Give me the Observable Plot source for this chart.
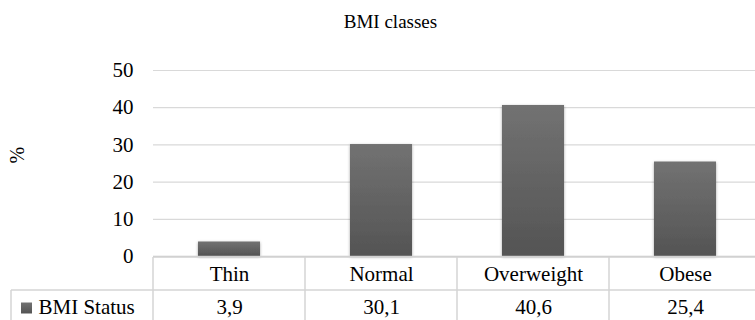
<!DOCTYPE html>
<html>
<head>
<meta charset="utf-8">
<script src="https://cdn.jsdelivr.net/npm/d3@7"></script>
<script src="https://cdn.jsdelivr.net/npm/@observablehq/plot@0.6"></script>
<style>
  html, body { margin: 0; padding: 0; background: #fff; overflow: hidden; }
  #chart svg, #chart svg text { font-family: "Liberation Serif", "Times New Roman", Times, serif; }
</style>
</head>
<body>
<div id="chart"></div>
<script>
// ---- data ----
const title = "BMI classes";
const yLabel = "%";
const seriesName = "BMI Status";
const categories = ["Thin", "Normal", "Overweight", "Obese"];
const values = [3.9, 30.1, 40.6, 25.4];
const valueLabels = ["3,9", "30,1", "40,6", "25,4"];
const yTicks = [0, 10, 20, 30, 40, 50];

const data = categories.map((c, i) => ({category: c, value: values[i], label: valueLabels[i]}));

const FONT = '"Liberation Serif", "Times New Roman", Times, serif';
const LINE = "#d4d4d4";
const BASE = 21;

const chart = Plot.plot({
  width: 755,
  height: 320,
  marginTop: 70,
  marginBottom: 64,
  marginLeft: 153,
  marginRight: -6,
  style: {fontFamily: FONT, fontSize: "12px", color: "#000", background: "#fff", overflow: "hidden"},
  x: {domain: categories, padding: 0, axis: null},
  y: {domain: [0, 50], axis: null},
  marks: [
    Plot.gridY(yTicks.filter(d => d > 0), {stroke: "#d9d9d9", strokeOpacity: 1, strokeWidth: 1.2}),
    Plot.axisY(yTicks, {tickSize: 0, tickPadding: 20, fontSize: BASE, fontFamily: FONT, label: null, fill: "#000"}),
    Plot.barY(data, {x: "category", y: "value", fill: "url(#barGrad)", insetLeft: 45, insetRight: 45}),
    Plot.ruleY([0], {stroke: "#c8c8c8", strokeWidth: 1.5}),
    // table text
    Plot.text(data, {x: "category", text: "category", frameAnchor: "bottom", dy: 18, lineAnchor: "middle", fontSize: BASE, fontFamily: FONT, fill: "#000"}),
    Plot.text(data, {x: "category", text: "label", frameAnchor: "bottom", dy: 51, lineAnchor: "middle", fontSize: BASE, fontFamily: FONT, fill: "#000"}),
    Plot.text([seriesName], {text: d => d, frameAnchor: "bottom-left", dx: -115, dy: 51, textAnchor: "start", lineAnchor: "middle", fontSize: BASE, fontFamily: FONT, fill: "#000"}),
    Plot.dot([seriesName], {frameAnchor: "bottom-left", dx: -127, dy: 51.5, symbol: "square", r: 6.2, fill: "url(#barGrad)", stroke: "none"}),
    // title and y label
    Plot.text([title], {text: d => d, frameAnchor: "top", dx: -67, dy: -49, lineAnchor: "middle", fontSize: 19, fontFamily: FONT, fill: "#000"}),
    Plot.text([yLabel], {text: d => d, frameAnchor: "left", dx: -136, rotate: -90, lineAnchor: "middle", fontSize: 20, fontFamily: FONT, fill: "#000"})
  ]
});

const svg = d3.select(chart);
const defs = svg.insert("defs", ":first-child");
const grad = defs.append("linearGradient").attr("id", "barGrad")
  .attr("x1", 0).attr("y1", 0).attr("x2", 0).attr("y2", 1);
grad.append("stop").attr("offset", "0%").attr("stop-color", "#727272");
grad.append("stop").attr("offset", "100%").attr("stop-color", "#545454");
const f = defs.append("filter").attr("id", "shadow")
  .attr("x", "-20%").attr("y", "-20%").attr("width", "140%").attr("height", "140%");
f.append("feDropShadow").attr("dx", 0).attr("dy", 1).attr("stdDeviation", 1.6)
  .attr("flood-color", "#000").attr("flood-opacity", 0.35);
svg.selectAll("g[aria-label='bar'] rect").attr("filter", "url(#shadow)");

// table grid lines, placed with the chart's own scales
const xs = chart.scale("x");
const y0 = chart.scale("y").apply(0);
const left = xs.range[0], right = xs.range[1];
const rowH = 34, bottom = 320, tableLeft = 11;
const grid = svg.append("g").attr("stroke", LINE).attr("stroke-width", 1.5).attr("fill", "none");
grid.append("line").attr("x1", left).attr("x2", right).attr("y1", y0 + 1).attr("y2", y0 + 1);
grid.append("line").attr("x1", tableLeft).attr("x2", right).attr("y1", y0 + rowH).attr("y2", y0 + rowH);
categories.forEach(c => {
  const x = xs.apply(c);
  grid.append("line").attr("x1", x).attr("x2", x).attr("y1", y0 + 1).attr("y2", bottom);
});
grid.append("line").attr("x1", tableLeft).attr("x2", tableLeft).attr("y1", y0 + rowH).attr("y2", bottom);

document.getElementById("chart").appendChild(chart);
</script>
</body>
</html>
